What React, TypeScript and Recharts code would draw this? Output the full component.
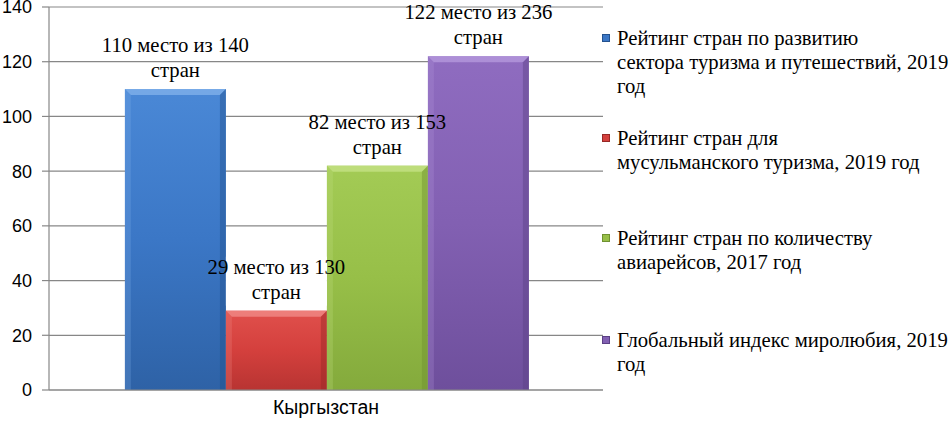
import React from 'react';
import { BarChart, Bar, XAxis, YAxis, CartesianGrid, Legend, LabelList } from 'recharts';

const categories = ['Кыргызстан'];
const seriesNames = [
  'Рейтинг стран по развитию\nсектора туризма и путешествий, 2019\nгод',
  'Рейтинг стран для\nмусульманского туризма, 2019 год',
  'Рейтинг стран по количеству\nавиарейсов, 2017 год',
  'Глобальный индекс миролюбия, 2019\nгод',
];
const seriesValues = [110, 29, 82, 122];
const seriesLabels = [
  ['110 место из 140', 'стран'],
  ['29 место из 130', 'стран'],
  ['82 место из 153', 'стран'],
  ['122 место из 236', 'стран'],
];
const yTicks = [0, 20, 40, 60, 80, 100, 120, 140];

const colors = [
  { top: '#4A88D6', mid: '#3B77C6', bot: '#2E62A6', light: '#7FB0EA', dark: '#24528E' },
  { top: '#E0504C', mid: '#D4403D', bot: '#B83432', light: '#F08A86', dark: '#962826' },
  { top: '#A3CB55', mid: '#97BF48', bot: '#84AA3C', light: '#C4E184', dark: '#6F9131' },
  { top: '#8F6CC0', mid: '#8260B2', bot: '#6E4F9C', light: '#B499DC', dark: '#5B4085' },
];

const data = categories.map((c) => {
  const row: Record<string, string | number> = { category: c };
  seriesValues.forEach((v, i) => {
    row['s' + i] = v;
  });
  return row;
});

const serif = 'Liberation Serif, Times New Roman, DejaVu Serif, serif';
const sans = 'Liberation Sans, Arial, sans-serif';
const fs = 20.7;

function makeShape(i: number) {
  return (props: any) => {
    const { x, y, width, height } = props;
    const c = colors[i];
    const b = 6;
    return (
      <g>
        <rect x={x} y={y} width={width} height={height} fill={`url(#grad${i})`} />
        <polygon
          points={`${x},${y} ${x + width},${y} ${x + width - b},${y + b} ${x + b},${y + b}`}
          fill={c.light}
          opacity={0.8}
        />
        <polygon
          points={`${x},${y} ${x + b},${y + b} ${x + b},${y + height} ${x},${y + height}`}
          fill={c.light}
          opacity={0.25}
        />
        <polygon
          points={`${x + width},${y} ${x + width - b},${y + b} ${x + width - b},${y + height} ${x + width},${y + height}`}
          fill={c.dark}
          opacity={0.45}
        />
      </g>
    );
  };
}

function makeLabel(i: number) {
  return (props: any) => {
    const { x, y, width } = props;
    const cx = x + width / 2;
    const lines = seriesLabels[i];
    const base2 = y - 12;
    const base1 = base2 - 25;
    return (
      <g>
        {i === 1 && (
          <rect x={x} y={base1 - 17} width={width} height={base2 - base1 + 24} fill="#ffffff" />
        )}
        <text x={cx} y={base1} textAnchor="middle" style={{ fontFamily: serif, fontSize: fs }} fill="#000">
          {lines[0]}
        </text>
        <text x={cx} y={base2} textAnchor="middle" style={{ fontFamily: serif, fontSize: fs }} fill="#000">
          {lines[1]}
        </text>
      </g>
    );
  };
}

const legendTops = [26, 126, 226, 328];

const renderLegend = () => (
  <div style={{ position: 'relative', width: 354, height: 427 }}>
    {seriesNames.map((name, i) => (
      <div
        key={i}
        style={{
          position: 'absolute',
          left: 0,
          top: legendTops[i],
          fontFamily: serif,
          fontSize: fs,
          lineHeight: '24px',
          color: '#000',
          whiteSpace: 'pre',
          textAlign: 'left',
        }}
      >
        <span
          style={{
            position: 'absolute',
            left: 5,
            top: 8,
            width: 8,
            height: 8,
            background: colors[i].mid,
            border: `1px solid ${colors[i].dark}`,
            boxSizing: 'border-box',
          }}
        />
        <div style={{ marginLeft: 20, fontFamily: serif }}>{name}</div>
      </div>
    ))}
  </div>
);

export default function App() {
  return (
    <div style={{ position: 'absolute', left: 0, top: 0, width: 951, height: 427, background: '#fff' }}>
      <BarChart
        width={951}
        height={427}
        data={data}
        margin={{ top: 7, right: 348, bottom: 0, left: 0 }}
        barCategoryGap="13.7%"
        barGap={0}
      >
        <defs>
          {colors.map((c, i) => (
            <linearGradient key={i} id={`grad${i}`} x1="0" y1="0" x2="0" y2="1">
              <stop offset="0%" stopColor={c.top} />
              <stop offset="50%" stopColor={c.mid} />
              <stop offset="100%" stopColor={c.bot} />
            </linearGradient>
          ))}
        </defs>
        <CartesianGrid vertical={false} stroke="#878787" strokeWidth={1.2} />
        <XAxis
          dataKey="category"
          height={37}
          tickLine={false}
          axisLine={{ stroke: '#878787', strokeWidth: 1.2 }}
          tickSize={0}
          tickMargin={10}
          tick={{ fontFamily: sans, fontSize: 19.5, fill: '#000' }}
        />
        <YAxis
          width={49}
          domain={[0, 140]}
          ticks={yTicks}
          interval={0}
          tickSize={7}
          tickMargin={10}
          tickLine={{ stroke: '#878787', strokeWidth: 1.2 }}
          axisLine={{ stroke: '#878787', strokeWidth: 1.2 }}
          tick={{ fontFamily: sans, fontSize: 18, fill: '#000' }}
        />
        <Legend
          layout="horizontal"
          verticalAlign="middle"
          align="center"
          content={renderLegend}
          wrapperStyle={{ position: 'absolute', left: 597, top: 0, width: 354, height: 427 }}
        />
        {seriesValues.map((_, i) => (
          <Bar
            key={i}
            dataKey={'s' + i}
            name={seriesNames[i]}
            fill={colors[i].mid}
            shape={makeShape(i)}
            isAnimationActive={false}
          >
            <LabelList dataKey={'s' + i} content={makeLabel(i)} />
          </Bar>
        ))}
      </BarChart>
    </div>
  );
}
